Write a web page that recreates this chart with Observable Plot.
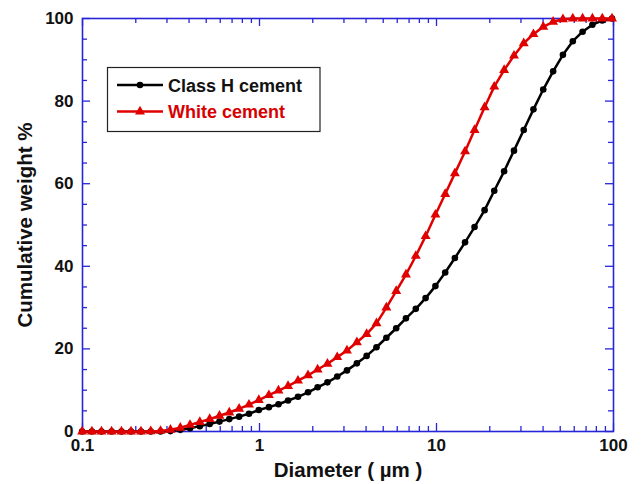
<!DOCTYPE html>
<html>
<head>
<meta charset="utf-8">
<script src="https://cdn.jsdelivr.net/npm/d3@7"></script>
<script src="https://cdn.jsdelivr.net/npm/@observablehq/plot@0.6"></script>
<style>
  html, body { margin: 0; padding: 0; background: white; }
  #chart { width: 644px; height: 484px; }
</style>
</head>
<body>
<div id="chart"></div>
<script>
// ---- data ----
const diameters = [0.0995, 0.113, 0.128, 0.146, 0.166, 0.188, 0.214, 0.243, 0.276, 0.314, 0.357, 0.405, 0.46, 0.523, 0.594, 0.675, 0.767, 0.872, 0.991,
  1.13, 1.28, 1.45, 1.65, 1.88, 2.13, 2.42, 2.75, 3.12, 3.55, 4.03, 4.58, 5.21, 5.92, 6.72, 7.64, 8.68, 9.86,
  11.2, 12.7, 14.5, 16.4, 18.7, 21.2, 24.1, 27.4, 31.1, 35.3, 40.1, 45.6, 51.8, 58.9, 66.9, 76, 86.4, 98.1];
const classH = [0, 0, 0, 0, 0, 0, 0, 0, 0, 0.1, 0.4, 0.8, 1.3, 1.8, 2.4, 3.0, 3.6, 4.3, 5.2,
  5.9, 6.6, 7.5, 8.4, 9.5, 10.7, 11.9, 13.3, 14.8, 16.5, 18.3, 20.4, 22.7, 25.0, 27.4, 29.7, 32.3, 35.2,
  38.5, 42.0, 45.8, 49.5, 53.6, 58.3, 63.0, 68.0, 73.0, 78.0, 82.8, 87.2, 91.2, 94.5, 96.8, 98.5, 99.5, 100];
const whiteCement = [0, 0, 0, 0, 0, 0, 0, 0.05, 0.15, 0.4, 0.9, 1.6, 2.3, 3.0, 3.8, 4.6, 5.5, 6.5, 7.6,
  8.8, 9.9, 11.0, 12.3, 13.6, 15.0, 16.4, 18.0, 19.6, 21.6, 23.6, 26.2, 30.0, 34.0, 38.0, 42.5, 47.3, 52.5,
  57.5, 62.5, 67.8, 73.0, 78.5, 83.5, 87.5, 91.0, 94.0, 96.2, 98.0, 99.2, 99.8, 100, 100, 100, 100, 100];
const seriesNames = ["Class H cement", "White cement"];
const xMajorTicks = [0.1, 1, 10, 100];
const xMinorTicks = [0.2, 0.3, 0.4, 0.5, 0.6, 0.7, 0.8, 0.9, 2, 3, 4, 5, 6, 7, 8, 9, 20, 30, 40, 50, 60, 70, 80, 90];
const yMajorTicks = [0, 20, 40, 60, 80, 100];
const yMinorTicks = [5, 10, 15, 25, 30, 35, 45, 50, 55, 65, 70, 75, 85, 90, 95];
const xTitle = "Diameter ( µm )";
const yTitle = "Cumulative weight %";

// ---- layout ----
const W = 644, H = 484, mL = 82, mR = 31, mT = 18, mB = 53;
const innerW = W - mL - mR, innerH = H - mT - mB;
const blue = "#2626d6", red = "#e10000";
const font = "'Liberation Sans', Arial, Helvetica, sans-serif";

const rowsH = diameters.map((d, i) => ({d, v: classH[i]}));
const rowsW = diameters.map((d, i) => ({d, v: whiteCement[i]}));

const tickStyle = {stroke: blue, strokeWidth: 1.3};
const svg = Plot.plot({
  width: W, height: H,
  marginLeft: mL, marginRight: mR, marginTop: mT, marginBottom: mB,
  style: {fontFamily: font, fontWeight: "bold", background: "white", overflow: "visible"},
  x: {type: "log", domain: [0.1, 100], axis: null},
  y: {domain: [0, 100], axis: null},
  marks: [
    // inward ticks on all four sides
    Plot.tickX(xMajorTicks, {x: d => d, insetTop: innerH - 8, ...tickStyle}),
    Plot.tickX(xMinorTicks, {x: d => d, insetTop: innerH - 5, ...tickStyle}),
    Plot.tickX(xMajorTicks, {x: d => d, insetBottom: innerH - 8, ...tickStyle}),
    Plot.tickX(xMinorTicks, {x: d => d, insetBottom: innerH - 5, ...tickStyle}),
    Plot.tickY(yMajorTicks, {y: d => d, insetRight: innerW - 8, ...tickStyle}),
    Plot.tickY(yMinorTicks, {y: d => d, insetRight: innerW - 5, ...tickStyle}),
    Plot.tickY(yMajorTicks, {y: d => d, insetLeft: innerW - 8, ...tickStyle}),
    Plot.tickY(yMinorTicks, {y: d => d, insetLeft: innerW - 5, ...tickStyle}),
    Plot.frame({stroke: blue, strokeWidth: 1.6}),
    // tick labels
    Plot.text(xMajorTicks, {x: d => d, frameAnchor: "bottom", dy: 19, text: d => String(d), fontSize: 17, fontWeight: "bold", fill: "#111"}),
    Plot.text(yMajorTicks, {y: d => d, frameAnchor: "left", dx: -9, textAnchor: "end", text: d => String(d), fontSize: 17, fontWeight: "bold", fill: "#111"}),
    // axis titles
    Plot.text([xTitle], {frameAnchor: "bottom", dy: 45, text: d => d, fontSize: 20.5, fontWeight: "bold", fill: "#111"}),
    Plot.text([yTitle], {frameAnchor: "left", dx: -57, rotate: -90, textAnchor: "middle", text: d => d, fontSize: 20.5, fontWeight: "bold", fill: "#111"}),
    // series
    Plot.line(rowsH, {x: "d", y: "v", stroke: "black", strokeWidth: 2.5}),
    Plot.dot(rowsH, {x: "d", y: "v", r: 3.3, fill: "black", stroke: "none"}),
    Plot.line(rowsW, {x: "d", y: "v", stroke: red, strokeWidth: 2.5}),
    Plot.dot(rowsW, {x: "d", y: "v", r: 3.7, symbol: "triangle", fill: red, stroke: "none"})
  ]
});
document.getElementById("chart").appendChild(svg);

// ---- legend inside the plot ----
const s = d3.select(svg);
const lg = s.append("g").attr("font-family", font).attr("font-weight", "bold").attr("font-size", 18)
  .attr("text-anchor", "start");
lg.append("rect").attr("x", 107.5).attr("y", 67.5).attr("width", 212.5).attr("height", 64)
  .attr("fill", "white").attr("stroke", "#222").attr("stroke-width", 1.2);
const items = [
  {name: seriesNames[0], color: "black", sym: d3.symbolCircle, r: 3.3, y: 85, ty: 92, tc: "#111"},
  {name: seriesNames[1], color: red, sym: d3.symbolTriangle, r: 3.7, y: 111.5, ty: 118, tc: "#d80000"}
];
for (const it of items) {
  lg.append("line").attr("x1", 117).attr("x2", 163).attr("y1", it.y).attr("y2", it.y)
    .attr("stroke", it.color).attr("stroke-width", 2.5);
  lg.append("path").attr("d", d3.symbol(it.sym, Math.PI * it.r * it.r)())
    .attr("transform", `translate(140,${it.y})`).attr("fill", it.color);
  lg.append("text").attr("x", 168).attr("y", it.ty).attr("text-anchor", "start")
    .attr("fill", it.tc).text(it.name);
}
</script>
</body>
</html>
